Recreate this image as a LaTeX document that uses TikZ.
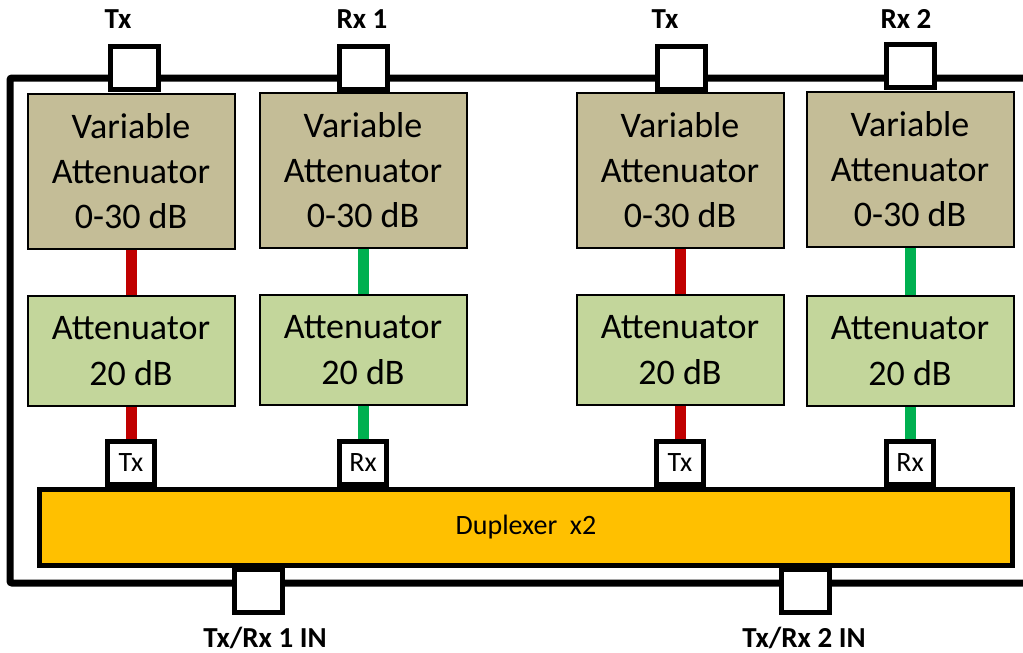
\documentclass[tikz,border=0pt]{standalone}
\usepackage{fontspec}
\setmainfont{Carlito}
\usetikzlibrary{positioning}
\definecolor{vattan}{HTML}{C4BD97}
\definecolor{attgreen}{HTML}{C3D69B}
\definecolor{duporange}{HTML}{FFC000}
\definecolor{txred}{HTML}{C00000}
\definecolor{rxgreen}{HTML}{00B050}

\begin{document}
\begin{tikzpicture}[x=1pt,y=-1pt,
    varatt/.style={draw, line width=2pt, fill=vattan, minimum width=207pt, minimum height=155pt,
      inner sep=0pt, align=center, font=\fontsize{36}{45}\selectfont},
    fixatt/.style={draw, line width=2pt, fill=attgreen, minimum width=207pt, minimum height=110pt,
      inner sep=0pt, align=center, font=\fontsize{36}{46}\selectfont},
    port/.style={draw, line width=5pt, fill=white, minimum width=48pt, minimum height=43pt, inner sep=0pt},
    smallport/.style={draw, line width=5pt, fill=white, minimum width=47pt, minimum height=43pt,
      inner sep=0pt, font=\fontsize{28}{30}\selectfont},
    txline/.style={line width=11pt, txred},
    rxline/.style={line width=11pt, rxgreen},
    portlabel/.style={inner sep=0pt, font=\fontsize{29}{30}\selectfont\bfseries}]

      \useasboundingbox (0,0) rectangle (1023,653);

      \coordinate (frTR) at (1023,78);
      \coordinate (frTL) at (10,78);
      \coordinate (frBL) at (10,583);
      \coordinate (frBR) at (1023,583);
      \draw[line width=7pt, rounded corners=2pt] (frTR) -- (frTL) -- (frBL) -- (frBR);

      \node[port] (tp1) at (134,68) {};
      \node[port] (tp2) at (363,68) {};
      \node[port] (tp3) at (681,68) {};
      \node[port] (tp4) at (910,66) {};

      \node[varatt] (va1) at (131,171) {Variable\\Attenuator\\0-30 dB};
      \node[varatt] (va2) at (363,170) {Variable\\Attenuator\\0-30 dB};
      \node[varatt] (va3) at (680,170) {Variable\\Attenuator\\0-30 dB};
      \node[varatt] (va4) at (910,169) {Variable\\Attenuator\\0-30 dB};

      \node[fixatt] (at1) at (131,351) {Attenuator\\20 dB};
      \node[fixatt] (at2) at (363,350) {Attenuator\\20 dB};
      \node[fixatt] (at3) at (680,350) {Attenuator\\20 dB};
      \node[fixatt] (at4) at (910,351) {Attenuator\\20 dB};

      \node[smallport] (sp1) at (131,463) {Tx};
      \node[smallport] (sp2) at (363,463) {Rx};
      \node[smallport] (sp3) at (680,463) {Tx};
      \node[smallport] (sp4) at (910,463) {Rx};

      \draw[txline] (va1.south) -- (at1.north);
      \draw[txline] (at1.south) -- (sp1.north);
      \draw[rxline] (va2.south) -- (at2.north);
      \draw[rxline] (at2.south) -- (sp2.north);
      \draw[txline] (va3.south) -- (at3.north);
      \draw[txline] (at3.south) -- (sp3.north);
      \draw[rxline] (va4.south) -- (at4.north);
      \draw[rxline] (at4.south) -- (sp4.north);

      \node[draw, line width=5pt, fill=duporange, minimum width=973pt, minimum height=76pt,
        inner sep=0pt, font=\fontsize{28}{30}\selectfont] (dup) at (526,527) {Duplexer\ \ x2};

      \node[port] (in1) at (258,591) {};
      \node[port] (in2) at (805,591) {};

      \node[portlabel] (lbTx1) at (118,19) {Tx};
      \node[portlabel] (lbRx1) at (362,19) {Rx 1};
      \node[portlabel] (lbTx2) at (665,19) {Tx};
      \node[portlabel] (lbRx2) at (906,19) {Rx 2};
      \node[portlabel] (lbIn1) at (265,638) {Tx/Rx 1 IN};
      \node[portlabel] (lbIn2) at (804,638) {Tx/Rx 2 IN};

    \end{tikzpicture}
\end{document}
